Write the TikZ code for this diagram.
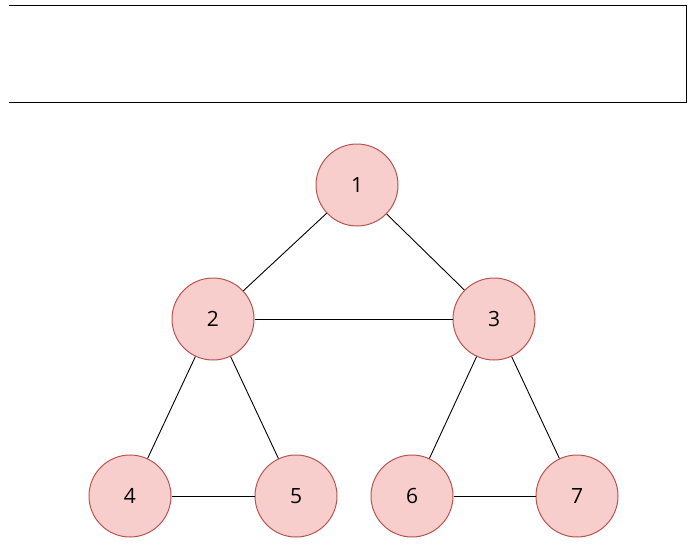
\documentclass[tikz,border=0pt]{standalone}
\usepackage{fontspec}
\setmainfont{Open Sans}
\definecolor{nodefill}{HTML}{F8CECC}
\definecolor{nodestroke}{HTML}{B85450}
\begin{document}
\begin{tikzpicture}[x=1pt,y=-1pt,
  vert/.style={circle,draw=nodestroke,line width=1pt,fill=nodefill,minimum size=82pt,inner sep=0pt,font=\fontsize{21}{25}\selectfont},
  edge/.style={draw=black,line width=0.9pt}]
\useasboundingbox (0,0) rectangle (693,549);
\coordinate (tl) at (9,5);
\coordinate (tr) at (686,5);
\coordinate (br) at (686,102);
\coordinate (bl) at (9,102);
\draw[line width=1pt] (tl) -- (tr) -- (br) -- (bl);
\node[vert] (n1) at (357,185) {1};
\node[vert] (n2) at (213,319) {2};
\node[vert] (n3) at (494,319) {3};
\node[vert] (n4) at (130,496) {4};
\node[vert] (n5) at (296,496) {5};
\node[vert] (n6) at (412,496) {6};
\node[vert] (n7) at (577,496) {7};
\draw[edge] (n1) -- (n2);
\draw[edge] (n1) -- (n3);
\draw[edge] (n2) -- (n3);
\draw[edge] (n2) -- (n4);
\draw[edge] (n2) -- (n5);
\draw[edge] (n3) -- (n6);
\draw[edge] (n3) -- (n7);
\draw[edge] (n4) -- (n5);
\draw[edge] (n6) -- (n7);
\end{tikzpicture}
\end{document}
